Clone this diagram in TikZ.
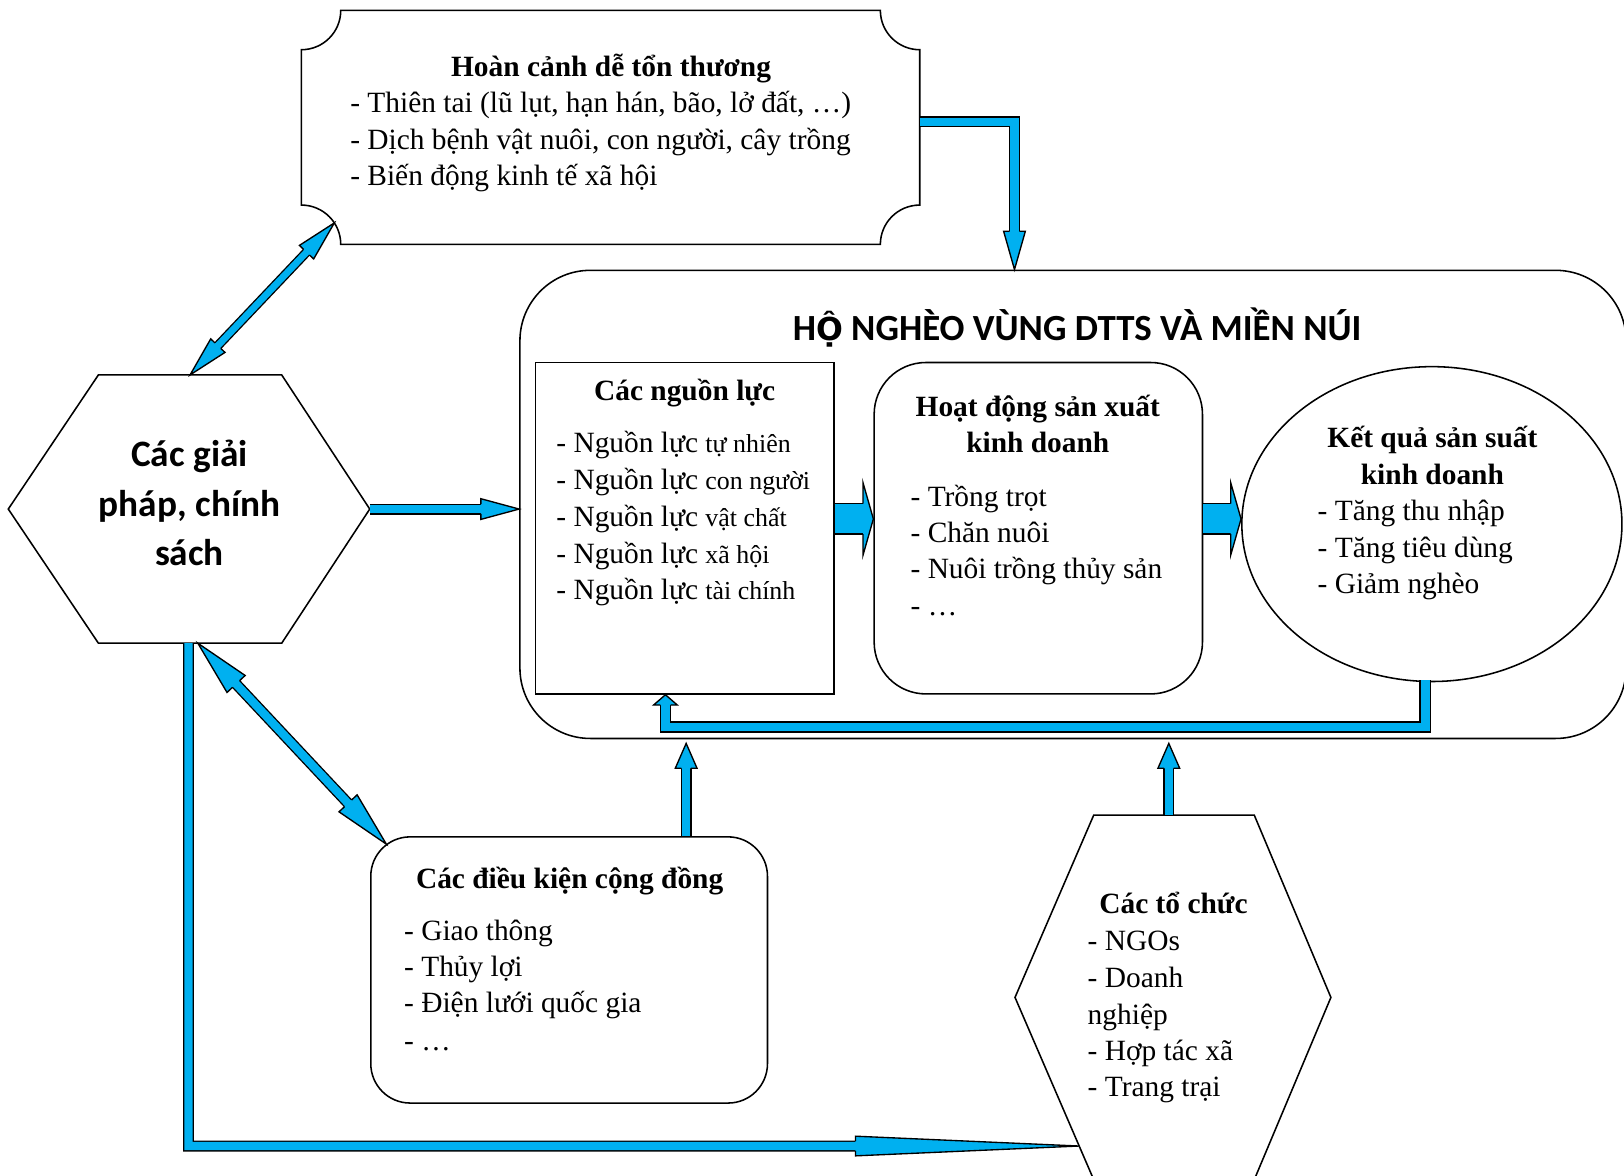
\documentclass[tikz,border=0pt]{standalone}
\usepackage{fontspec}
\setmainfont{Liberation Serif}
\newfontfamily\calfont{Carlito}
\newfontfamily\vnfont{DejaVu Sans}
\usetikzlibrary{calc,shapes.geometric}
\definecolor{abl}{HTML}{00B0F0}
\newcommand\sm{\fontsize{25}{30}\selectfont}
\tikzset{
  box/.style={draw=black, line width=1.5pt, inner sep=0pt},
  txt/.style={inner sep=0pt, font=\fontsize{28.4}{34}\selectfont, anchor=base west},
  ttl/.style={inner sep=0pt, font=\fontsize{28.4}{34}\selectfont\bfseries, anchor=base},
  sttl/.style={inner sep=0pt, font=\calfont\bfseries\fontsize{36}{44}\selectfont, anchor=base},
  shaft/.style={draw=black, line width=1.3pt, double=abl, double distance=8pt, line join=miter},
  hout/.style={draw=black, line width=1.3pt, line join=miter},
}
% #1 tip, #2 base coordinate, #3 head half width, #4 shaft half width
\newcommand\ahead[4]{%
  \fill[abl] ($(#2)!#3!90:(#1)$) -- (#1) -- ($(#2)!#3!-90:(#1)$) -- cycle;
  \draw[hout] ($(#2)!#4!90:(#1)$) -- ($(#2)!#3!90:(#1)$) -- (#1) -- ($(#2)!#3!-90:(#1)$) -- ($(#2)!#4!-90:(#1)$);
}
\begin{document}
\begin{tikzpicture}[x=1pt,y=-1pt]
\useasboundingbox (0,0) rectangle (1568,1135);
\fill[white] (0,0) rectangle (1568,1135);

% ---------- hexagon corners ----------
\coordinate (polL) at (8,491.5);
\coordinate (polTL) at (95,362);
\coordinate (polTR) at (272,362);
\coordinate (polR) at (357,491.5);
\coordinate (polBR) at (272,621);
\coordinate (polBL) at (95,621);
\coordinate (orgL) at (980,963);
\coordinate (orgTL) at (1056,787);
\coordinate (orgTR) at (1211,787);
\coordinate (orgR) at (1285,963);
\coordinate (orgBR) at (1211,1139);
\coordinate (orgBL) at (1056,1139);
\coordinate (y501) at (0,501);

% ---------- shapes ----------
\node[minimum width=597pt, minimum height=226pt, inner sep=0pt] (vul) at (589.5,123) {};
\draw[line width=1.5pt]
  (329,10) -- (850,10) .. controls (850,31) and (867,48) .. (888,48)
  -- (888,198) .. controls (867,198) and (850,215) .. (850,236)
  -- (329,236) .. controls (329,215) and (312,198) .. (291,198)
  -- (291,48) .. controls (312,48) and (329,31) .. (329,10) -- cycle;

\node[box, rounded corners=68pt, minimum width=1068pt, minimum height=452pt] (big) at (1036,487) {};
\node[box, minimum width=288pt, minimum height=320pt] (res) at (661,510) {};
\node[box, rounded corners=50pt, minimum width=317pt, minimum height=320pt] (act) at (1002.5,510) {};
\node[box, ellipse, minimum width=367pt, minimum height=304pt] (out) at (1382.5,506) {};
\node[box, rounded corners=38pt, minimum width=383pt, minimum height=257pt] (comm) at (549.5,936.5) {};
\draw[line width=1.5pt, line join=miter] (polL) -- (polTL) -- (polTR) -- (polR) -- (polBR) -- (polBL) -- cycle;
\draw[line width=1.5pt, line join=miter] (orgL) -- (orgTL) -- (orgTR) -- (orgR) -- (orgBR) -- (orgBL) -- cycle;

% ---------- texts ----------
\node[ttl] (vul-t) at (590,74) {Hoàn cảnh dễ tổn thương};
\node[txt] (vul-1) at (338,109) {- Thiên tai (lũ lụt, hạn hán, bão, lở đất, …)};
\node[txt] (vul-2) at (338,144) {- Dịch bệnh vật nuôi, con người, cây trồng};
\node[txt] (vul-3) at (338,179) {- Biến động kinh tế xã hội};

\node[sttl, font=\calfont\bfseries\fontsize{35.6}{42}\selectfont] (big-t) at (1040,329) {H{\vnfont\bfseries\fontsize{30.5}{42}\selectfont Ộ} NGHÈO VÙNG DTTS VÀ MIỀN NÚI};

\node[sttl] (pol-1) at (183,450) {Các giải};
\node[sttl] (pol-2) at (183,499) {pháp, chính};
\node[sttl] (pol-3) at (183,546) {sách};

\node[ttl] (res-t) at (661,387) {Các nguồn lực};
\node[txt] (res-1) at (537,437) {- Nguồn lực {\sm tự nhiên}};
\node[txt] (res-2) at (537,473) {- Nguồn lực {\sm con người}};
\node[txt] (res-3) at (537,508) {- Nguồn lực {\sm vật chất}};
\node[txt] (res-4) at (537,544) {- Nguồn lực {\sm xã hội}};
\node[txt] (res-5) at (537,579) {- Nguồn lực {\sm tài chính}};

\node[ttl] (act-t1) at (1002,402) {Hoạt động sản xuất};
\node[ttl] (act-t2) at (1002,437) {kinh doanh};
\node[txt] (act-1) at (879,489) {- Trồng trọt};
\node[txt] (act-2) at (879,524) {- Chăn nuôi};
\node[txt] (act-3) at (879,559) {- Nuôi trồng thủy sản};
\node[txt] (act-4) at (879,594) {- …};

\node[ttl] (out-t1) at (1383,432) {Kết quả sản suất};
\node[ttl] (out-t2) at (1383,468) {kinh doanh};
\node[txt] (out-1) at (1272,503) {- Tăng thu nhập};
\node[txt] (out-2) at (1272,538) {- Tăng tiêu dùng};
\node[txt] (out-3) at (1272,573) {- Giảm nghèo};

\node[ttl] (comm-t) at (550,858) {Các điều kiện cộng đồng};
\node[txt] (comm-1) at (390,908) {- Giao thông};
\node[txt] (comm-2) at (390,943) {- Thủy lợi};
\node[txt] (comm-3) at (390,978) {- Điện lưới quốc gia};
\node[txt] (comm-4) at (390,1014) {- …};

\node[ttl] (org-t) at (1133,882) {Các tổ chức};
\node[txt] (org-1) at (1050,918) {- NGOs};
\node[txt] (org-2) at (1050,953) {- Doanh};
\node[txt] (org-3) at (1050,989) {nghiệp};
\node[txt] (org-4) at (1050,1024) {- Hợp tác xã};
\node[txt] (org-5) at (1050,1059) {- Trang trại};

% ---------- arrows ----------
% 1: vulnerability -> household box (elbow)
\coordinate (a1s) at ($(vul.east)+(0,-5.5)$);
\coordinate (a1c) at (979.5,117.5);
\coordinate (a1t) at (a1c |- big.north);
\coordinate (a1b) at ($(a1t)!37pt!(a1c)$);
\draw[shaft, shorten >=-2pt] (a1s) -- (a1c) -- (a1b);
\ahead{a1t}{a1b}{10.5pt}{4.65pt}

% 2: policies -> household box
\coordinate (a2t) at (big.west |- polR);
\coordinate (a2b) at ($(a2t)!37pt!(polR)$);
\draw[shaft, shorten >=-2pt] (polR) -- (a2b);
\ahead{a2t}{a2b}{10pt}{4.65pt}

% 3: policies <-> vulnerability
\coordinate (a3a) at ($(polTL)!0.5!(polTR)$);
\coordinate (a3b) at (322.8,215.2);
\coordinate (a3ab) at ($(a3a)!39pt!(a3b)$);
\coordinate (a3bb) at ($(a3b)!39pt!(a3a)$);
\draw[shaft, double distance=6.5pt, shorten <=-2pt, shorten >=-2pt] (a3ab) -- (a3bb);
\ahead{a3a}{a3ab}{9.5pt}{3.9pt}
\ahead{a3b}{a3bb}{9.5pt}{3.9pt}

% 4: policies <-> community
\coordinate (a4a) at (191,621);
\coordinate (a4b) at (373,815);
\coordinate (a4ab) at ($(a4a)!54pt!(a4b)$);
\coordinate (a4bb) at ($(a4b)!54pt!(a4a)$);
\draw[shaft, double distance=8pt, shorten <=-2pt, shorten >=-2pt] (a4ab) -- (a4bb);
\ahead{a4a}{a4ab}{12pt}{4.65pt}
\ahead{a4b}{a4bb}{12pt}{4.65pt}

% 5: policies -> organisations (elbow)
\coordinate (a5s) at (182,621);
\coordinate (a5c) at (182,1106.5);
\coordinate (a5t) at ($(orgL)!0.8153!(orgBL)$);
\coordinate (a5b) at ($(a5t)!216pt!(a5c)$);
\draw[shaft, shorten >=-2pt] (a5s) -- (a5c) -- (a5b);
\ahead{a5t}{a5b}{9.5pt}{4.65pt}

% 6: resources -> production
\coordinate (a6s) at (res.east |- y501);
\coordinate (a6t) at (act.west |- y501);
\coordinate (a6b) at ($(a6t)!10pt!(a6s)$);
\draw[shaft, double distance=28pt, shorten >=-2pt] (a6s) -- (a6b);
\ahead{a6t}{a6b}{35pt}{14.65pt}

% 7: production -> results
\coordinate (a7s) at (act.east |- y501);
\coordinate (a7t) at (out.west |- y501);
\coordinate (a7b) at ($(a7t)!10pt!(a7s)$);
\draw[shaft, double distance=28pt, shorten >=-2pt] (a7s) -- (a7b);
\ahead{a7t}{a7b}{35pt}{14.65pt}

% 8: results -> resources (feedback)
\coordinate (a8s) at (1376,657);
\coordinate (a8c1) at (1376,702);
\coordinate (a8c2) at (642.5,702);
\coordinate (a8t) at (a8c2 |- res.south);
\coordinate (a8b) at ($(a8t)!10pt!(a8c2)$);
\draw[shaft, double distance=8.5pt, shorten >=-2pt] (a8s) -- (a8c1) -- (a8c2) -- (a8b);
\ahead{a8t}{a8b}{11.5pt}{4.9pt}

% 9: community -> household box
\coordinate (a9x) at (662.5,0);
\coordinate (a9s) at (a9x |- comm.north);
\coordinate (a9t) at ($(a9x |- big.south)+(0,4)$);
\coordinate (a9b) at ($(a9t)!24pt!(a9s)$);
\draw[shaft, shorten >=-2pt] (a9s) -- (a9b);
\ahead{a9t}{a9b}{10.5pt}{4.65pt}

% 10: organisations -> household box
\coordinate (a10x) at (1128.5,0);
\coordinate (a10s) at (a10x |- orgTL);
\coordinate (a10t) at ($(a10x |- big.south)+(0,4)$);
\coordinate (a10b) at ($(a10t)!24pt!(a10s)$);
\draw[shaft, shorten >=-2pt] (a10s) -- (a10b);
\ahead{a10t}{a10b}{10.5pt}{4.65pt}
\end{tikzpicture}
\end{document}
